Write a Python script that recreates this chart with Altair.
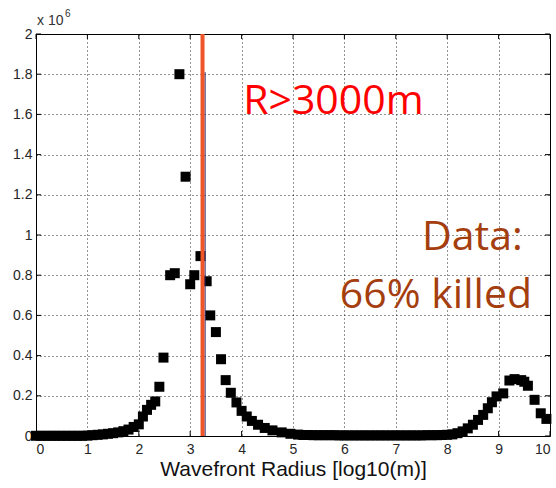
import altair as alt
import pandas as pd

# Wavefront radius (log10 m) and counts (in units of 10^6)
radius = [0.0, 0.1, 0.2, 0.3, 0.4, 0.5, 0.6, 0.7, 0.8, 0.9,
          1.0, 1.1, 1.2, 1.3, 1.4, 1.5, 1.6, 1.7, 1.8, 1.9,
          2.0, 2.08, 2.16, 2.24, 2.32, 2.40, 2.48, 2.61, 2.70, 2.79,
          2.91, 3.00, 3.08, 3.20, 3.32, 3.39, 3.50, 3.60, 3.69, 3.79,
          3.90, 4.00, 4.10, 4.20, 4.32, 4.45, 4.60, 4.78, 4.95, 5.1,
          5.2, 5.3, 5.4, 5.5, 5.6, 5.7, 5.8, 5.9, 6.0, 6.1,
          6.2, 6.3, 6.4, 6.5, 6.6, 6.7, 6.8, 6.9, 7.0, 7.1,
          7.2, 7.3, 7.4, 7.5, 7.6, 7.7, 7.8, 7.9, 8.0, 8.1,
          8.2, 8.3, 8.4, 8.5, 8.6, 8.7, 8.79, 8.87, 8.96, 9.09,
          9.21, 9.31, 9.44, 9.50, 9.57, 9.70, 9.82, 9.93]
count_millions = [0.001, 0.001, 0.001, 0.001, 0.001, 0.001, 0.001, 0.001, 0.001, 0.001,
                  0.002, 0.004, 0.006, 0.008, 0.011, 0.014, 0.018, 0.024, 0.032, 0.045,
                  0.058, 0.097, 0.130, 0.155, 0.172, 0.245, 0.390, 0.800, 0.810, 1.800,
                  1.290, 0.755, 0.800, 0.895, 0.770, 0.600, 0.517, 0.382, 0.278, 0.215,
                  0.167, 0.125, 0.097, 0.075, 0.056, 0.040, 0.028, 0.018, 0.011, 0.007,
                  0.005, 0.005, 0.004, 0.004, 0.004, 0.004, 0.004, 0.003, 0.003, 0.003,
                  0.003, 0.003, 0.003, 0.003, 0.003, 0.003, 0.003, 0.003, 0.003, 0.003,
                  0.003, 0.003, 0.003, 0.003, 0.004, 0.004, 0.004, 0.005, 0.006, 0.008,
                  0.014, 0.023, 0.038, 0.056, 0.080, 0.105, 0.138, 0.168, 0.197, 0.212,
                  0.276, 0.283, 0.278, 0.270, 0.250, 0.180, 0.113, 0.085]

threshold_x = [3.24]          # orange-red marker line
stem_x = [3.29]               # thin navy line
stem_top = [1.81]
x_ticks = [0, 1, 2, 3, 4, 5, 6, 7, 8, 9, 10]
y_ticks = [0, 0.2, 0.4, 0.6, 0.8, 1.0, 1.2, 1.4, 1.6, 1.8, 2.0]

ann_label = ["R>3000m", "Data:", "66% killed"]
ann_x = [4.03, 9.47, 9.65]
ann_y = [1.60, 0.925, 0.637]

W, H = 514, 402

df = pd.DataFrame({"x": radius, "y": count_millions})

xscale = alt.Scale(domain=[0, 10], nice=False, zero=False)
yscale = alt.Scale(domain=[0, 2], nice=False, zero=False)

base_x_axis = alt.Axis(values=x_ticks, format="d", title="Wavefront Radius [log10(m)]",
                       labelPadding=6, titlePadding=2, grid=True)
base_y_axis = alt.Axis(values=y_ticks, format="~g", title=None, labelPadding=4, grid=True)

points = alt.Chart(df).mark_point(shape="square", filled=True, size=100, color="black",
                                  opacity=1, strokeWidth=0).encode(
    x=alt.X("x:Q", scale=xscale, axis=base_x_axis),
    y=alt.Y("y:Q", scale=yscale, axis=base_y_axis),
)

red_line = alt.Chart(pd.DataFrame({"x": threshold_x})).mark_rule(
    color="#EE5528", strokeWidth=4).encode(x=alt.X("x:Q", scale=xscale))

stem = alt.Chart(pd.DataFrame({"x": stem_x, "y": stem_top, "y2": [0]})).mark_rule(
    color="#1C1C6B", strokeWidth=1).encode(
    x=alt.X("x:Q", scale=xscale), y=alt.Y("y:Q", scale=yscale), y2="y2:Q")

xt = pd.DataFrame({"x": x_ticks})
yt = pd.DataFrame({"y": y_ticks})
tick_bottom = alt.Chart(xt).mark_rule(color="black", strokeWidth=1).encode(
    x=alt.X("x:Q", scale=xscale), y=alt.value(H), y2=alt.value(H - 5))
tick_top = alt.Chart(xt).mark_rule(color="black", strokeWidth=1).encode(
    x=alt.X("x:Q", scale=xscale), y=alt.value(0), y2=alt.value(5))
tick_left = alt.Chart(yt).mark_rule(color="black", strokeWidth=1).encode(
    y=alt.Y("y:Q", scale=yscale), x=alt.value(0), x2=alt.value(5))
tick_right = alt.Chart(yt).mark_rule(color="black", strokeWidth=1).encode(
    y=alt.Y("y:Q", scale=yscale), x=alt.value(W), x2=alt.value(W - 5))

ann = pd.DataFrame({"label": ann_label, "x": ann_x, "y": ann_y})
r_text = alt.Chart(ann.iloc[[0]]).mark_text(
    align="left", baseline="alphabetic", font="Open Sans", fontSize=41, color="#FF0000").encode(
    x=alt.X("x:Q", scale=xscale), y=alt.Y("y:Q", scale=yscale), text="label:N")
d_text = alt.Chart(ann.iloc[[1, 2]]).mark_text(
    align="right", baseline="alphabetic", font="Open Sans", fontSize=41, color="#A53E0E").encode(
    x=alt.X("x:Q", scale=xscale), y=alt.Y("y:Q", scale=yscale), text="label:N")

exp_base = alt.Chart(pd.DataFrame({"t": ["x 10"]})).mark_text(
    align="left", baseline="alphabetic", font="Liberation Sans", fontSize=14, color="#333333").encode(
    x=alt.value(1), y=alt.value(-9), text="t:N")
exp_pow = alt.Chart(pd.DataFrame({"t": ["6"]})).mark_text(
    align="left", baseline="alphabetic", font="Liberation Sans", fontSize=10, color="#333333").encode(
    x=alt.value(29), y=alt.value(-17), text="t:N")

chart = alt.layer(
    points, stem, red_line, tick_bottom, tick_top, tick_left, tick_right,
    r_text, d_text, exp_base, exp_pow
).properties(
    width=W, height=H,
    autosize=alt.AutoSizeParams(type="none"),
    padding={"left": 36, "top": 34, "right": 6, "bottom": 52},
    background="white",
).configure_view(
    stroke="black", strokeWidth=1, fill="white"
).configure_axis(
    domain=False, tickSize=0,
    labelFont="Liberation Sans", labelFontSize=14, labelColor="#262626",
    titleFont="Liberation Sans", titleFontSize=21, titleFontWeight="normal", titleColor="#111111",
    gridColor="black", gridDash=[1, 3], gridOpacity=0.85, gridWidth=1,
)

chart.save("out.html", embed_options={"renderer": "svg", "actions": False})
